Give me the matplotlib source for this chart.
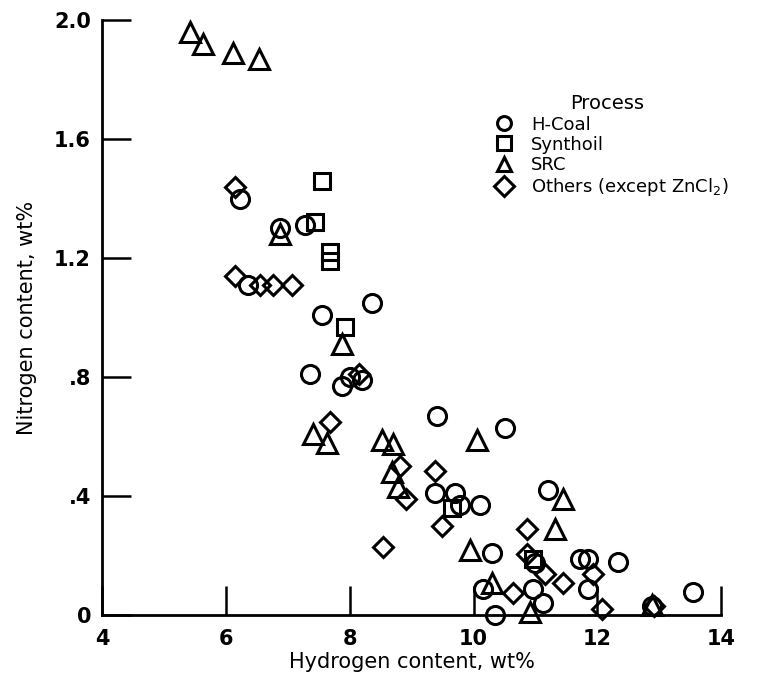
import matplotlib
matplotlib.use("Agg")
import matplotlib.pyplot as plt

plt.rcParams['font.family'] = ['DejaVu Sans']

# H-Coal (circles)
hcoal_x = [6.23, 6.88, 7.28, 6.35, 7.55, 8.36, 7.36, 7.88, 8.0, 8.2, 9.41, 10.51,
           9.38, 9.70, 9.78, 10.1, 10.30, 11.2, 11.0, 11.72, 11.85, 12.34, 11.85,
           10.15, 10.96, 11.12, 10.35, 12.88, 13.55]
hcoal_y = [1.40, 1.30, 1.31, 1.11, 1.01, 1.05, 0.81, 0.77, 0.80, 0.79, 0.67, 0.63,
           0.41, 0.41, 0.37, 0.37, 0.21, 0.42, 0.175, 0.19, 0.19, 0.18, 0.09,
           0.09, 0.09, 0.04, 0.0, 0.03, 0.08]

# Synthoil (squares)
synth_x = [7.55, 7.44, 7.68, 7.68, 7.93, 9.65, 10.96]
synth_y = [1.46, 1.32, 1.22, 1.19, 0.97, 0.36, 0.19]

# SRC (triangles)
src_x = [5.42, 5.63, 6.12, 6.54, 6.88, 7.88, 7.41, 7.63, 8.52, 8.70, 10.06, 8.69,
         8.78, 9.95, 11.45, 11.32, 10.30, 10.92, 12.88]
src_y = [1.96, 1.92, 1.89, 1.87, 1.28, 0.91, 0.61, 0.58, 0.59, 0.575, 0.59, 0.48,
         0.43, 0.22, 0.39, 0.29, 0.11, 0.01, 0.035]

# Others (diamonds)
oth_x = [6.15, 6.15, 6.55, 6.76, 7.07, 7.68, 8.15, 8.81, 8.91, 9.38, 9.49, 8.54,
         10.87, 10.87, 11.16, 11.45, 11.93, 10.64, 12.08, 12.92]
oth_y = [1.44, 1.14, 1.11, 1.11, 1.11, 0.65, 0.81, 0.50, 0.39, 0.485, 0.30, 0.23,
         0.29, 0.205, 0.14, 0.11, 0.14, 0.075, 0.02, 0.03]

xticks = [4, 6, 8, 10, 12, 14]
yticks = [0, 0.4, 0.8, 1.2, 1.6, 2.0]
ytick_labels = ['0', '.4', '.8', '1.2', '1.6', '2.0']

fig = plt.figure(figsize=(7.68, 6.86), dpi=100)
ax = fig.add_axes([0.133, 0.103, 0.806, 0.868])

style = dict(linestyle='none', mfc='none', mec='black', mew=2.2, clip_on=False)
ax.plot(hcoal_x, hcoal_y, marker='o', ms=13, label='H-Coal', **style)
ax.plot(synth_x, synth_y, marker='s', ms=12, label='Synthoil', **style)
ax.plot(src_x, src_y, marker='^', ms=14, label='SRC', **style)
ax.plot(oth_x, oth_y, marker='D', ms=10, label='Others (except ZnCl$_2$)', **style)

ax.set_xlim(4, 14)
ax.set_ylim(0, 2.0)
ax.set_xticks(xticks)
ax.set_xticklabels([str(t) for t in xticks])
ax.set_yticks(yticks)
ax.set_yticklabels(ytick_labels)
ax.spines['top'].set_visible(False)
ax.spines['right'].set_visible(False)
for s in ['left', 'bottom']:
    ax.spines[s].set_linewidth(2)
ax.tick_params(direction='in', length=21, width=1.8, labelsize=15)
ax.tick_params(axis='x', pad=10)
ax.tick_params(axis='y', pad=8)
for lbl in ax.get_yticklabels() + ax.get_xticklabels():
    lbl.set_fontweight('bold')

ax.set_xlabel('Hydrogen content, wt%', fontsize=15, labelpad=2)
ax.set_ylabel('Nitrogen content, wt%', fontsize=15, labelpad=12)

leg = ax.legend(loc='upper left', bbox_to_anchor=(0.605, 0.89), frameon=False,
                title='Process', fontsize=13, title_fontsize=14,
                handletextpad=0.5, labelspacing=0.12, borderpad=0)
leg._legend_box.align = 'center'
for h in leg.legend_handles:
    h.set_markersize(10)

fig.savefig('out.png', dpi=100)
